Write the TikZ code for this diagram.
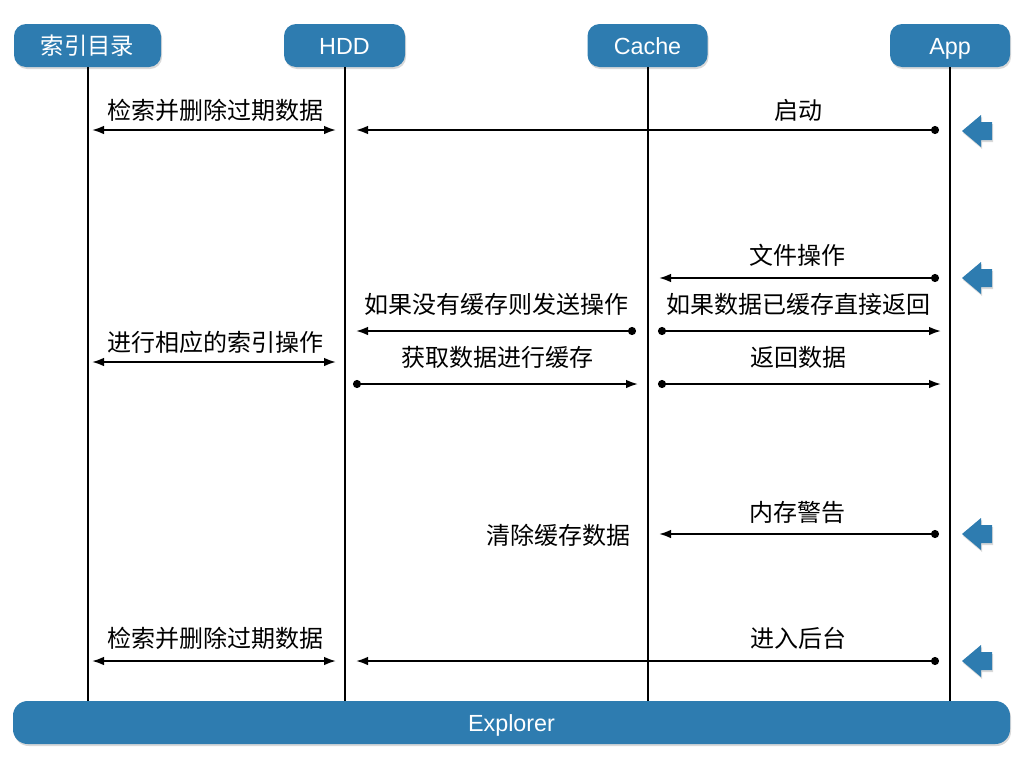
\documentclass[tikz,border=0pt]{standalone}
\usepackage{fontspec}
\setmainfont{Noto Sans CJK SC}
\newfontfamily\latinhdr{Liberation Sans}
\usetikzlibrary{arrows.meta,shadows}
\definecolor{boxblue}{RGB}{46,124,176}
\tikzset{
  hdr/.style={fill=boxblue, rounded corners=9pt, text=white,
    font=\fontsize{17.5}{20}\selectfont, minimum height=32.25pt, inner sep=0pt,
    text height=15pt, text depth=2.2pt,
    drop shadow={opacity=0.3,shadow xshift=0.8pt,shadow yshift=-1.5pt}},
  life/.style={line width=1.5pt},
  lbl/.style={font=\fontsize{18}{21}\selectfont, inner sep=0pt},
  msg/.style={line width=1.5pt, {Circle[length=6pt]}-{Latex[length=9pt,width=6.5pt]}},
  both/.style={line width=1.5pt, {Latex[length=9pt,width=6.5pt]}-{Latex[length=9pt,width=6.5pt]}},
  pics/warn/.style={code={
    \fill[boxblue, drop shadow={opacity=0.3,shadow xshift=0.8pt,shadow yshift=-1.5pt}]
      (0,0) -- (19,-16) -- (19,-9) -- (30,-9) -- (30,9) -- (19,9) -- (19,16) -- cycle;}}
}
\begin{document}
\begin{tikzpicture}[x=0.75pt,y=-0.75pt]
\useasboundingbox (0,0) rectangle (1024,768);
% headers
\node[hdr, minimum width=110.25pt] (h1) at (87.5,45.5) {索引目录};
\node[hdr, minimum width=90.75pt] (h2) at (344.5,45.5) {\latinhdr HDD};
\node[hdr, minimum width=90pt] (h3) at (647.5,45.5) {\latinhdr Cache};
\node[hdr, minimum width=90pt] (h4) at (950,45.5) {\latinhdr App};
\node[hdr, minimum width=747.75pt, rounded corners=11pt] (ex) at (511.5,722.5) {\latinhdr Explorer};
% lifelines
\draw[life] (h1.south) -- (h1.south |- ex.north);
\draw[life] (h2.south) -- (h2.south |- ex.north);
\draw[life] (h3.south) -- (h3.south |- ex.north);
\draw[life] (h4.south) -- (h4.south |- ex.north);

% row 1 (y=130)
\coordinate (r1a) at (92,130); \coordinate (r1b) at (336,130);
\coordinate (r1c) at (939,130); \coordinate (r1d) at (356,130);
\draw[both] (r1a) -- (r1b);
\draw[msg] (r1c) -- (r1d);
\node[lbl] (t1a) at (215,110) {检索并删除过期数据};
\node[lbl] (t1b) at (798,110) {启动};
\pic at (962,131) {warn};

% row 2 (y=278)
\coordinate (r2a) at (939,278); \coordinate (r2b) at (659,278);
\draw[msg] (r2a) -- (r2b);
\node[lbl] (t2) at (797,255) {文件操作};
\pic at (962,278) {warn};

% row 3 (y=331)
\coordinate (r3a) at (636,331); \coordinate (r3b) at (356,331);
\coordinate (r3c) at (658,331); \coordinate (r3d) at (941,331);
\draw[msg] (r3a) -- (r3b);
\draw[msg] (r3c) -- (r3d);
\node[lbl] (t3a) at (496,304) {如果没有缓存则发送操作};
\node[lbl] (t3b) at (798,304) {如果数据已缓存直接返回};

% row 4 (y=362)
\coordinate (r4a) at (92,362); \coordinate (r4b) at (336,362);
\draw[both] (r4a) -- (r4b);
\node[lbl] (t4) at (215,342) {进行相应的索引操作};

% row 5 (y=384)
\coordinate (r5a) at (353,384); \coordinate (r5b) at (638,384);
\coordinate (r5c) at (658,384); \coordinate (r5d) at (941,384);
\draw[msg] (r5a) -- (r5b);
\draw[msg] (r5c) -- (r5d);
\node[lbl] (t5a) at (497,357) {获取数据进行缓存};
\node[lbl] (t5b) at (798,357) {返回数据};

% row 6 (y=534)
\coordinate (r6a) at (939,534); \coordinate (r6b) at (659,534);
\draw[msg] (r6a) -- (r6b);
\node[lbl] (t6a) at (797,512) {内存警告};
\node[lbl] (t6b) at (558,535) {清除缓存数据};
\pic at (962,534) {warn};

% row 7 (y=661)
\coordinate (r7a) at (92,661); \coordinate (r7b) at (336,661);
\coordinate (r7c) at (939,661); \coordinate (r7d) at (356,661);
\draw[both] (r7a) -- (r7b);
\draw[msg] (r7c) -- (r7d);
\node[lbl] (t7a) at (215,638) {检索并删除过期数据};
\node[lbl] (t7b) at (798,638) {进入后台};
\pic at (962,661) {warn};
\end{tikzpicture}
\end{document}
